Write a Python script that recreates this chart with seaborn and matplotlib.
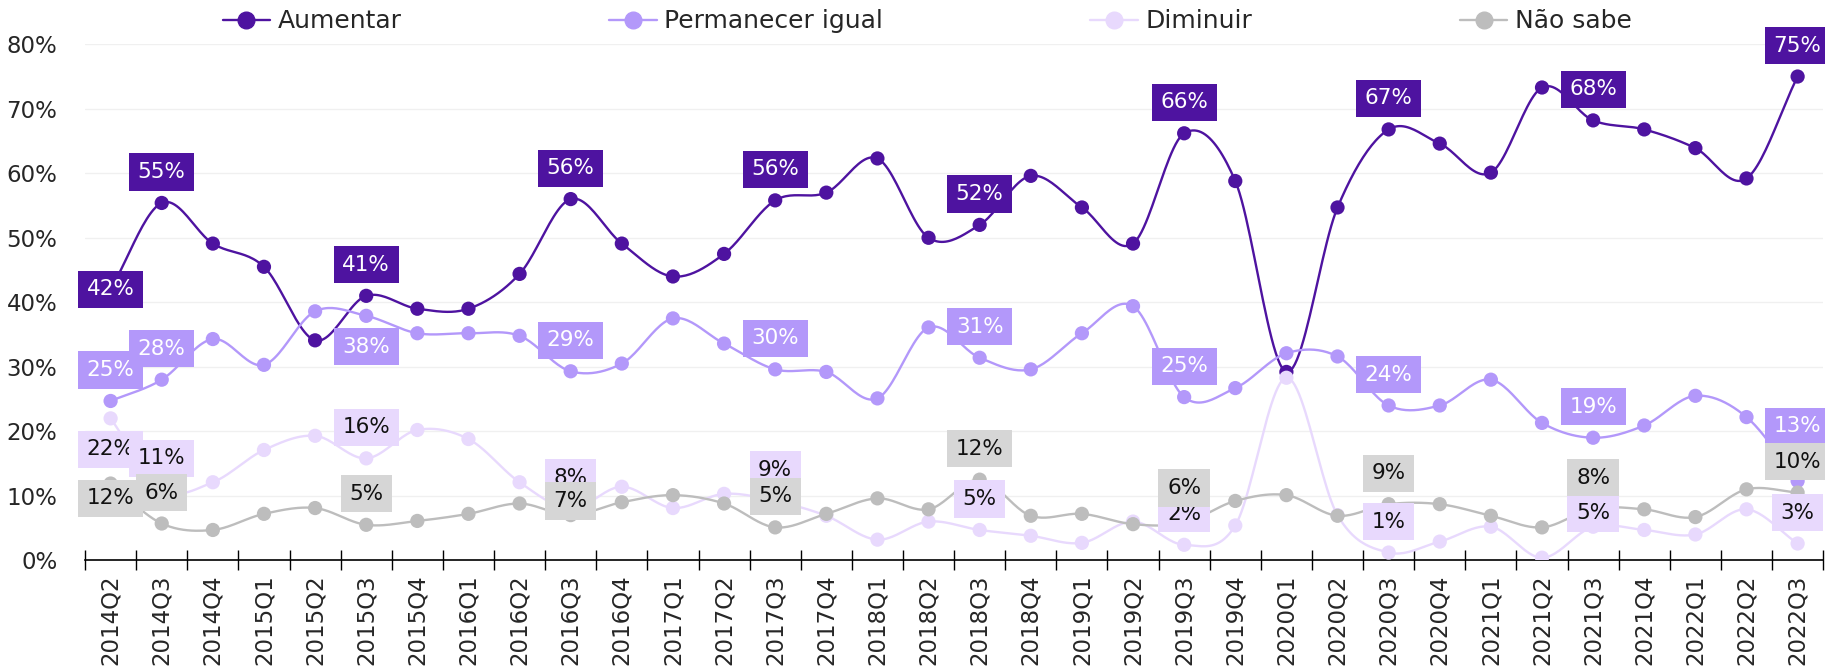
import numpy as np
import pandas as pd
import seaborn as sns
import matplotlib.pyplot as plt
from matplotlib.lines import Line2D
from matplotlib.ticker import FixedLocator, PercentFormatter

# quarters on the x axis
quarters = ['2014Q2', '2014Q3', '2014Q4', '2015Q1', '2015Q2', '2015Q3', '2015Q4',
            '2016Q1', '2016Q2', '2016Q3', '2016Q4', '2017Q1', '2017Q2', '2017Q3',
            '2017Q4', '2018Q1', '2018Q2', '2018Q3', '2018Q4', '2019Q1', '2019Q2',
            '2019Q3', '2019Q4', '2020Q1', '2020Q2', '2020Q3', '2020Q4', '2021Q1',
            '2021Q2', '2021Q3', '2021Q4', '2022Q1', '2022Q2', '2022Q3']

# values in %
aumentar = [42, 55.4, 49.1, 45.5, 34.1, 41, 39, 39, 44.4, 56, 49.1, 44, 47.5, 55.8,
            57, 62.3, 50, 52, 59.6, 54.7, 49.1, 66.2, 58.8, 29.2, 54.7, 66.8, 64.6,
            60.1, 73.3, 68.2, 66.8, 63.9, 59.2, 75]
permanecer = [24.7, 28, 34.3, 30.3, 38.6, 37.9, 35.2, 35.2, 34.8, 29.3, 30.5, 37.5,
              33.6, 29.6, 29.2, 25.1, 36.1, 31.4, 29.6, 35.2, 39.4, 25.3, 26.7, 32.1,
              31.6, 24, 24, 28, 21.3, 19, 20.9, 25.5, 22.2, 12.3]
diminuir = [22, 11, 12.1, 17.1, 19.3, 15.8, 20.2, 18.8, 12.1, 8, 11.4, 8.1, 10.3, 9.2,
            6.9, 3.2, 6, 4.7, 3.8, 2.7, 6, 2.4, 5.4, 28.3, 7, 1.2, 2.9, 5.2, 0.4, 5.2,
            4.7, 4, 7.9, 2.6]
nao_sabe = [11.9, 5.7, 4.7, 7.2, 8.1, 5.5, 6.1, 7.2, 8.8, 7, 9, 10.1, 8.8, 5.1, 7.2,
            9.6, 7.9, 12.5, 6.9, 7.2, 5.6, 5.8, 9.2, 10.1, 6.9, 8.7, 8.7, 6.9, 5.1, 8,
            7.9, 6.7, 11, 10.5]

# rounded labels shown in the boxes
labelled = [0, 1, 5, 9, 13, 17, 21, 25, 29, 33]
lab_aumentar = ['42%', '55%', '41%', '56%', '56%', '52%', '66%', '67%', '68%', '75%']
lab_permanecer = ['25%', '28%', '38%', '29%', '30%', '31%', '25%', '24%', '19%', '13%']
lab_diminuir = ['22%', '11%', '16%', '8%', '9%', '5%', '2%', '1%', '5%', '3%']
lab_nao_sabe = ['12%', '6%', '5%', '7%', '5%', '12%', '6%', '9%', '8%', '10%']

names = ['Aumentar', 'Permanecer igual', 'Diminuir', 'Não sabe']
values = [aumentar, permanecer, diminuir, nao_sabe]
labels = [lab_aumentar, lab_permanecer, lab_diminuir, lab_nao_sabe]
line_colors = ['#4E13A0', '#B398FA', '#E8D9FD', '#BDBDBD']
box_colors = ['#4E13A0', '#B398FA', '#E8D9FD', '#D6D6D6']
text_colors = ['white', 'white', '#111111', '#111111']

# label offsets (in % units), default above the point
default_off = 4.8
label_off = {(0, 0): 0, (1, 5): -4.8, (2, 0): -4.8, (3, 0): -2.3, (3, 9): 2.2,
             (1, 33): 8.5, (2, 29): 2.1, (3, 21): 5.4}


def smooth(x, y, n=24):
    # Catmull-Rom style curve through the points
    x = np.asarray(x, float)
    y = np.asarray(y, float)
    m = np.zeros_like(y)
    m[1:-1] = (y[2:] - y[:-2]) / 2
    m[0] = y[1] - y[0]
    m[-1] = y[-1] - y[-2]
    xs, ys = [], []
    for i in range(len(x) - 1):
        t = np.linspace(0, 1, n, endpoint=False)
        h00 = 2 * t**3 - 3 * t**2 + 1
        h10 = t**3 - 2 * t**2 + t
        h01 = -2 * t**3 + 3 * t**2
        h11 = t**3 - t**2
        xs.append(x[i] + t * (x[i + 1] - x[i]))
        ys.append(h00 * y[i] + h10 * m[i] + h01 * y[i + 1] + h11 * m[i + 1])
    xs.append([x[-1]])
    ys.append([y[-1]])
    return np.concatenate(xs), np.concatenate(ys)


sns.set_theme(style='white')
plt.rcParams['font.family'] = ['DejaVu Sans']

fig, ax = plt.subplots(figsize=(18.25, 6.71), dpi=100)
fig.subplots_adjust(left=0.0466, right=0.999, bottom=0.165, top=0.934)

pos = np.arange(len(quarters))
for k in range(4):
    xs, ys = smooth(pos, values[k])
    sns.lineplot(x=xs, y=ys, color=line_colors[k], linewidth=1.7, sort=False,
                 ax=ax, zorder=2 + k)
    sns.scatterplot(x=pos, y=values[k], color=line_colors[k], s=105,
                    edgecolor='none', ax=ax, zorder=2 + k)

for k in range(4):
    for j, idx in enumerate(labelled):
        off = label_off.get((k, idx), default_off)
        ax.text(pos[idx], values[k][idx] + off, labels[k][j], ha='center',
                va='center', fontsize=15.5, color=text_colors[k], zorder=10 + k,
                clip_on=False,
                bbox=dict(boxstyle='square,pad=0.4', fc=box_colors[k], ec='none'))

ax.set_xlim(-0.5, len(quarters) - 0.5)
ax.set_ylim(0, 80)
ax.set_xticks(pos)
ax.set_xticklabels(quarters, rotation=90, fontsize=16.5)
ax.xaxis.set_minor_locator(FixedLocator(np.arange(-0.5, len(quarters), 1)))
ax.tick_params(axis='x', which='major', length=0, pad=10)
ax.tick_params(axis='x', which='minor', direction='inout', length=14, width=1,
               color='black', bottom=True)
ax.set_yticks(np.arange(0, 81, 10))
ax.yaxis.set_major_formatter(PercentFormatter(decimals=0))
ax.tick_params(axis='y', length=0, labelsize=16.5, pad=20)
ax.grid(axis='y', color='#F0F0F0', linewidth=1)
ax.set_axisbelow(True)
for side in ['top', 'right', 'left']:
    ax.spines[side].set_visible(False)
ax.spines['bottom'].set_color('black')
ax.spines['bottom'].set_linewidth(1.2)
ax.set_xlabel('')
ax.set_ylabel('')

handles = [Line2D([0], [0], color=c, marker='o', markersize=12, linewidth=1.7)
           for c in line_colors]
fig.legend(handles, names, loc='center', bbox_to_anchor=(0.508, 0.968), ncol=4,
           frameon=False, fontsize=18, columnspacing=8.3, handlelength=1.9,
           handletextpad=0.3)

fig.savefig('out.png', dpi=100)
